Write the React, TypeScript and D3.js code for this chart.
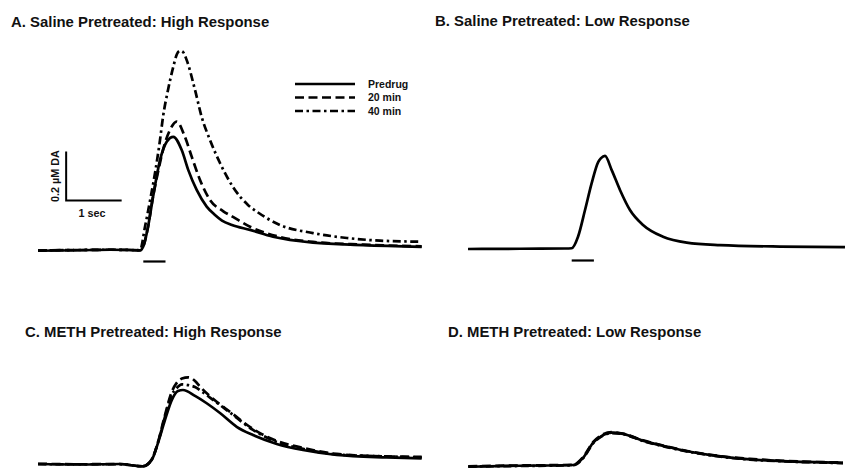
import React from "react";
import * as d3 from "d3";

// Traces: [time (s) relative to stimulation onset, concentration (µM DA)]
type Pt = [number, number];

const seriesNames = ["Predrug", "20 min", "40 min"];

const salineHighPredrug: Pt[] = [
  [-1.897, -0.005], [-1.141, -0.003], [-0.6, -0.001], [-0.24, -0.002], [-0.059, -0.004],
  [-0.005, 0.01], [0.085, 0.092], [0.175, 0.214], [0.301, 0.365], [0.422, 0.44],
  [0.541, 0.46], [0.692, 0.406], [0.811, 0.324], [0.962, 0.243], [1.142, 0.175],
  [1.292, 0.141], [1.418, 0.118], [1.598, 0.1], [1.923, 0.08], [2.337, 0.052],
  [3.058, 0.028], [3.959, 0.018], [5.016, 0.011],
];
const salineHigh20: Pt[] = [
  [-1.897, -0.004], [-1.141, -0.002], [-0.6, -0.001], [-0.24, -0.002], [-0.059, -0.003],
  [-0.005, 0.01], [0.085, 0.092], [0.175, 0.216], [0.265, 0.316], [0.355, 0.406],
  [0.481, 0.488], [0.602, 0.522], [0.751, 0.459], [0.872, 0.379], [1.022, 0.284],
  [1.202, 0.202], [1.436, 0.157], [1.616, 0.133], [1.923, 0.093], [2.463, 0.051],
  [3.058, 0.031], [3.959, 0.02], [5.016, 0.013],
];
const salineHigh40: Pt[] = [
  [-1.897, -0.004], [-1.141, -0.002], [-0.6, -0.001], [-0.24, -0.002], [-0.059, -0.003],
  [0.031, 0.093], [0.133, 0.214], [0.211, 0.312], [0.301, 0.447], [0.355, 0.541],
  [0.445, 0.651], [0.541, 0.746], [0.607, 0.798], [0.661, 0.811], [0.715, 0.806],
  [0.782, 0.773], [0.932, 0.651], [1.052, 0.541], [1.202, 0.447], [1.382, 0.353],
  [1.616, 0.255], [1.886, 0.182], [2.049, 0.154], [2.463, 0.1], [3.058, 0.067],
  [3.67, 0.047], [4.265, 0.036], [4.986, 0.032],
];

const salineLowPredrug: Pt[] = [
  [-1.868, -0.002], [-0.932, -0.001], [-0.121, 0], [0, 0.001], [0.114, 0.048],
  [0.24, 0.157], [0.36, 0.267], [0.479, 0.354], [0.528, 0.369], [0.6, 0.378],
  [0.721, 0.32], [0.87, 0.239], [1.05, 0.157], [1.285, 0.096], [1.645, 0.048],
  [2.072, 0.024], [2.672, 0.014], [3.753, 0.008], [4.924, 0.006],
];

const methHighPredrug: Pt[] = [
  [-1.897, 0.002], [-1.141, 0], [-0.42, 0.002], [-0.005, -0.008], [0.151, 0.018],
  [0.265, 0.088], [0.391, 0.182], [0.512, 0.263], [0.625, 0.3], [0.715, 0.304],
  [0.932, 0.28], [1.142, 0.25], [1.382, 0.21], [1.683, 0.154], [1.977, 0.12],
  [2.404, 0.084], [2.877, 0.059], [3.485, 0.039], [4.386, 0.029], [5.016, 0.025],
];
const methHigh20: Pt[] = [
  [-1.897, 0.003], [-1.141, 0.001], [-0.42, 0.002], [-0.005, -0.007], [0.151, 0.02],
  [0.265, 0.092], [0.391, 0.202], [0.512, 0.296], [0.602, 0.333], [0.697, 0.351],
  [0.811, 0.356], [0.932, 0.341], [1.022, 0.318], [1.256, 0.268], [1.562, 0.215],
  [1.977, 0.145], [2.404, 0.096], [2.877, 0.068], [3.485, 0.043], [4.386, 0.033],
  [5.016, 0.031],
];
const methHigh40: Pt[] = [
  [-1.897, 0.001], [-1.141, 0.001], [-0.42, 0.001], [-0.005, -0.007], [0.151, 0.02],
  [0.265, 0.09], [0.391, 0.195], [0.512, 0.284], [0.602, 0.312], [0.697, 0.327],
  [0.811, 0.324], [0.932, 0.316], [1.076, 0.294], [1.256, 0.264], [1.562, 0.212],
  [1.977, 0.141], [2.404, 0.092], [2.877, 0.064], [3.485, 0.041], [4.386, 0.033],
  [5.016, 0.029],
];

const methLowPredrug: Pt[] = [
  [-1.863, -0.005], [-0.932, -0.001], [0.029, 0.002], [0.204, 0.031], [0.384, 0.092],
  [0.564, 0.124], [0.721, 0.134], [0.924, 0.129], [1.285, 0.101], [1.712, 0.077],
  [2.132, 0.056], [2.613, 0.039], [3.213, 0.025], [3.807, 0.018], [4.888, 0.011],
];
const methLow20: Pt[] = [
  [-1.863, -0.003], [-0.932, 0], [0.029, 0.003], [0.204, 0.034], [0.384, 0.095],
  [0.564, 0.127], [0.721, 0.136], [0.924, 0.13], [1.285, 0.103], [1.712, 0.078],
  [2.132, 0.057], [2.613, 0.04], [3.213, 0.027], [3.807, 0.019], [4.888, 0.012],
];
const methLow40: Pt[] = [
  [-1.863, -0.004], [-0.932, -0.002], [0.029, 0.001], [0.204, 0.029], [0.384, 0.09],
  [0.564, 0.122], [0.721, 0.132], [0.924, 0.128], [1.285, 0.1], [1.712, 0.075],
  [2.132, 0.055], [2.613, 0.038], [3.213, 0.024], [3.807, 0.017], [4.888, 0.01],
];

const panelTitles = [
  "A. Saline Pretreated: High Response",
  "B. Saline Pretreated: Low Response",
  "C. METH Pretreated: High Response",
  "D. METH Pretreated: Low Response",
];

// Scale bar and stimulation bar values
const scaleBarSec = 1;
const scaleBarConc = 0.2;
const stimDuration = 0.4;

const PX_PER_SEC = 55.5;
const PX_PER_UM = 245;
const dashes = [null, "9,4.5", "8,3.5,2.5,3.5"];

interface Panel {
  title: string;
  titleX: number;
  titleY: number;
  x0: number; // pixel position of t = 0
  y0: number; // pixel position of zero concentration
  traces: Pt[][];
  stim: boolean;
}

const panels: Panel[] = [
  { title: panelTitles[0], titleX: 11, titleY: 26.5, x0: 143.3, y0: 249.5, traces: [salineHighPredrug, salineHigh20, salineHigh40], stim: true },
  { title: panelTitles[1], titleX: 435, titleY: 26, x0: 571.7, y0: 248.5, traces: [salineLowPredrug], stim: true },
  { title: panelTitles[2], titleX: 25, titleY: 336.5, x0: 143.3, y0: 464.5, traces: [methHighPredrug, methHigh20, methHigh40], stim: false },
  { title: panelTitles[3], titleX: 448, titleY: 337, x0: 571.7, y0: 465.5, traces: [methLowPredrug, methLow20, methLow40], stim: false },
];

const FONT = "Liberation Sans, Arial, Helvetica, sans-serif";

function PanelView({ p, showKey }: { p: Panel; showKey: boolean }) {
  const x = d3.scaleLinear().domain([0, 1]).range([p.x0, p.x0 + PX_PER_SEC]);
  const y = d3.scaleLinear().domain([0, 1]).range([p.y0, p.y0 - PX_PER_UM]);
  const line = d3
    .line<Pt>()
    .x((d) => x(d[0]))
    .y((d) => y(d[1]))
    .curve(d3.curveMonotoneX);

  const sbT = -1.39;
  const sbC = 0.2;

  return (
    <g>
      <text x={p.titleX} y={p.titleY} fontFamily={FONT} fontWeight="bold" fontSize={14.9} fill="#111">
        {p.title}
      </text>
      {p.traces.map((tr, i) => (
        <path
          key={i}
          d={line(tr) || ""}
          fill="none"
          stroke="#000"
          strokeWidth={2.7}
          strokeLinejoin="round"
          strokeDasharray={dashes[i] || undefined}
        />
      ))}
      {p.stim && (
        <line x1={x(0)} x2={x(stimDuration)} y1={p.y0 + 12} y2={p.y0 + 12} stroke="#000" strokeWidth={2.2} />
      )}
      {showKey && (
        <g>
          <path
            d={`M${x(sbT)},${y(sbC + scaleBarConc)}V${y(sbC)}H${x(sbT + scaleBarSec)}`}
            fill="none"
            stroke="#000"
            strokeWidth={2}
          />
          <text
            transform={`translate(${x(sbT) - 7.5},${(y(sbC) + y(sbC + scaleBarConc)) / 2}) rotate(-90)`}
            textAnchor="middle"
            fontFamily={FONT}
            fontWeight="bold"
            fontSize={10.8}
            fill="#111"
          >
            {`${scaleBarConc} µM DA`}
          </text>
          <text
            x={x(sbT + scaleBarSec / 2) - 2}
            y={y(sbC) + 16}
            textAnchor="middle"
            fontFamily={FONT}
            fontWeight="bold"
            fontSize={10.8}
            fill="#111"
          >
            {`${scaleBarSec} sec`}
          </text>
          {seriesNames.map((name, i) => (
            <g key={name} transform={`translate(0,${84 + i * 13.5})`}>
              <line
                x1={295}
                x2={355}
                y1={0}
                y2={0}
                stroke="#000"
                strokeWidth={2.6}
                strokeDasharray={dashes[i] || undefined}
              />
              <text x={368} y={3.8} fontFamily={FONT} fontWeight="bold" fontSize={10.5} fill="#111">
                {name}
              </text>
            </g>
          ))}
        </g>
      )}
    </g>
  );
}

export default function App() {
  return (
    <svg width={846} height={473} style={{ position: "absolute", left: 0, top: 0, background: "#fff" }}>
      <rect width={846} height={473} fill="#fff" />
      {panels.map((p, i) => (
        <PanelView key={i} p={p} showKey={i === 0} />
      ))}
    </svg>
  );
}
